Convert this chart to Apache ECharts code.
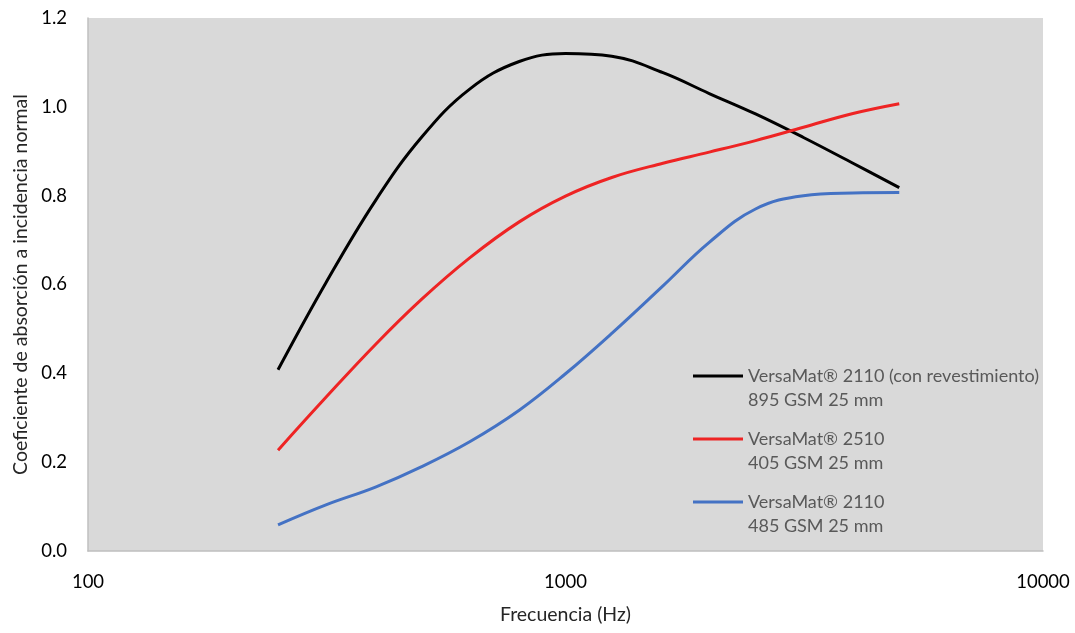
<!DOCTYPE html>
<html>
<head>
<meta charset="utf-8">
<script src="https://cdn.jsdelivr.net/npm/echarts@6/dist/echarts.min.js"></script>
<style>html,body{margin:0;padding:0;background:#fff;}#c{width:1075px;height:633px;}</style>
</head>
<body>
<div id="c"></div>
<script>
const frequencies = [250, 315, 400, 500, 630, 800, 1000, 1250, 1600, 2000, 2500, 3150, 4000, 5000];
const seriesNames = [
  'VersaMat® 2110 (con revestimiento)\n895 GSM 25 mm',
  'VersaMat® 2510\n405 GSM 25 mm',
  'VersaMat® 2110\n485 GSM 25 mm'
];
const blackValues = [0.408, 0.604, 0.789, 0.932, 1.040, 1.102, 1.120, 1.114, 1.077, 1.030, 0.984, 0.931, 0.873, 0.818];
const redValues   = [0.227, 0.346, 0.465, 0.567, 0.660, 0.741, 0.799, 0.841, 0.873, 0.898, 0.924, 0.954, 0.985, 1.007];
const blueValues  = [0.059, 0.104, 0.144, 0.190, 0.246, 0.317, 0.399, 0.490, 0.597, 0.695, 0.770, 0.800, 0.806, 0.807];
const colors = ['#000000', '#ee2424', '#4472c4'];

const pair = vals => frequencies.map((f, i) => [f, vals[i]]);
const FONT = 'Lato, "Noto Sans", sans-serif';

const chart = echarts.init(document.getElementById('c'), null, {renderer: 'canvas'});
chart.setOption({
  animation: false,
  backgroundColor: '#ffffff',
  textStyle: {fontFamily: FONT},
  grid: {left: 88, right: 32, top: 18, bottom: 82, show: true, backgroundColor: '#d9d9d9', borderWidth: 0},
  legend: {
    orient: 'vertical',
    left: 693,
    top: 364,
    padding: 0,
    icon: 'path://M0,0H50V3H0Z M0,27H0.01Z',
    itemWidth: 50,
    itemHeight: 27,
    itemGap: 15,
    itemStyle: {borderWidth: 0},
    data: seriesNames,
    textStyle: {color: '#595959', fontSize: 18, lineHeight: 24, fontFamily: FONT}
  },
  xAxis: {
    type: 'log',
    logBase: 10,
    min: 100,
    max: 10000,
    name: 'Frecuencia (Hz)',
    nameLocation: 'middle',
    nameGap: 54,
    nameTextStyle: {color: '#262626', fontSize: 19.5, fontFamily: FONT},
    axisLine: {show: true, lineStyle: {color: '#bfbfbf', width: 1.5}},
    axisTick: {show: false},
    minorTick: {show: false},
    splitLine: {show: false},
    axisLabel: {color: '#000', fontSize: 18.5, margin: 22, fontFamily: FONT, formatter: v => String(Math.round(v))}
  },
  yAxis: {
    type: 'value',
    min: 0,
    max: 1.2,
    interval: 0.2,
    name: 'Coeficiente de absorción a incidencia normal',
    nameLocation: 'middle',
    nameGap: 56,
    nameTextStyle: {color: '#262626', fontSize: 19.5, fontFamily: FONT},
    axisLine: {show: true, lineStyle: {color: '#bfbfbf', width: 1.5}},
    axisTick: {show: false},
    splitLine: {show: false},
    axisLabel: {color: '#000', fontSize: 18.5, margin: 21, fontFamily: FONT, formatter: v => v.toFixed(1)}
  },
  series: [blackValues, redValues, blueValues].map((vals, i) => ({
    name: seriesNames[i],
    type: 'line',
    data: pair(vals),
    smooth: 0.4,
    symbol: 'none',
    color: colors[i],
    lineStyle: {color: colors[i], width: 3}
  }))
});
</script>
</body>
</html>
